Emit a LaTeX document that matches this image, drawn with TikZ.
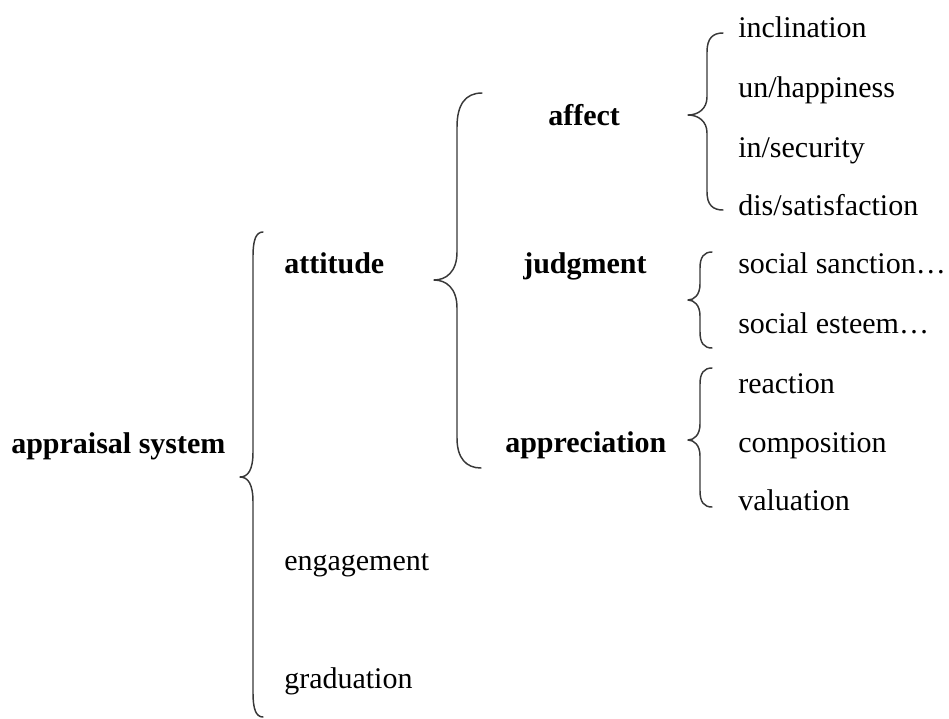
\documentclass[tikz,border=0pt]{standalone}
\usepackage{fontspec}
\setmainfont{Liberation Serif}
\begin{document}
\begin{tikzpicture}[x=0.75pt,y=-0.75pt,
  lbl/.style={anchor=base west,inner sep=0pt,font=\fontsize{22.5pt}{27pt}\selectfont},
  blbl/.style={lbl,font=\fontsize{22.5pt}{27pt}\selectfont\bfseries},
  brace/.style={draw=black!78,line width=1.1pt,line cap=round,line join=round}]
\useasboundingbox (0,0) rectangle (949,718);
% labels
\node[blbl] (app) at (11,453) {appraisal system};
\node[blbl] (att) at (284,273) {attitude};
\node[lbl] (eng) at (284,570) {engagement};
\node[lbl] (gra) at (284,688) {graduation};
\node[blbl] (aff) at (548,125) {affect};
\node[blbl] (jud) at (523,273) {judgment};
\node[blbl] (apr) at (505,452) {appreciation};
\node[lbl] (inc) at (738,37) {inclination};
\node[lbl] (unh) at (738,97) {un/happiness};
\node[lbl] (ins) at (738,157) {in/security};
\node[lbl] (dis) at (738,215) {dis/satisfaction};
\node[lbl] (ssa) at (738,273) {social sanction…};
\node[lbl] (ses) at (738,333) {social esteem…};
\node[lbl] (rea) at (738,393) {reaction};
\node[lbl] (com) at (738,452) {composition};
\node[lbl] (val) at (738,510) {valuation};
% braces
\path[brace] (263,232) .. controls (256,232) and (253,240) .. (253,256) -- (253,452)
  .. controls (253,470) and (248,477) .. (240,477) .. controls (248,477) and (253,484) .. (253,502)
  -- (253,693) .. controls (253,709) and (256,717) .. (263,717);
\path[brace] (482,93) .. controls (465,93) and (457,105) .. (457,127) -- (457,252)
  .. controls (457,272) and (446,280) .. (434,280) .. controls (446,280) and (457,288) .. (457,308)
  -- (457,438) .. controls (457,458) and (466,468) .. (481,468);
\path[brace] (723,33) .. controls (713,33) and (707,38) .. (707,52) -- (707,97)
  .. controls (707,109) and (698,115) .. (688,115) .. controls (698,115) and (707,121) .. (707,133)
  -- (707,192) .. controls (707,205) and (713,210) .. (723,210);
\path[brace] (712,252) .. controls (704,252) and (700,257) .. (700,268) -- (700,284)
  .. controls (700,295) and (694,300) .. (688,300) .. controls (694,300) and (700,305) .. (700,316)
  -- (700,332) .. controls (700,343) and (704,348) .. (712,348);
\path[brace] (712,368) .. controls (704,368) and (700,373) .. (700,384) -- (700,424)
  .. controls (700,435) and (694,440) .. (688,440) .. controls (694,440) and (700,445) .. (700,456)
  -- (700,491) .. controls (700,502) and (704,507) .. (712,507);
\end{tikzpicture}
\end{document}
